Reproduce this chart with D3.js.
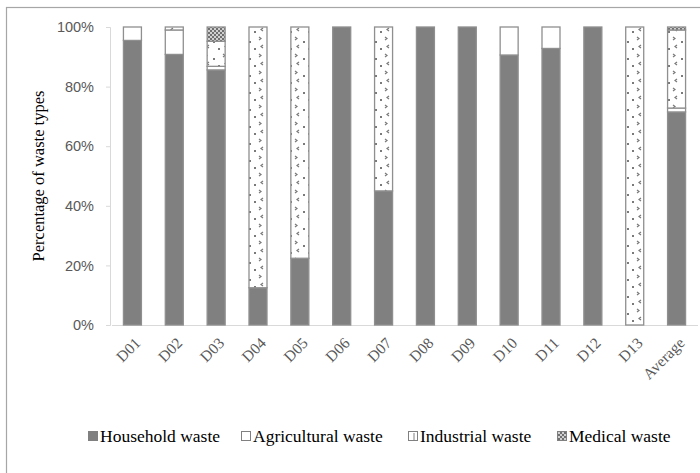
<!DOCTYPE html>
<html><head><meta charset="utf-8">
<script src="https://cdn.jsdelivr.net/npm/d3@7"></script>
<style>body{margin:0;background:#fff}svg{display:block}</style>
</head><body>
<svg id="c" width="700" height="473"></svg>
<script>
const categories = ["D01","D02","D03","D04","D05","D06","D07","D08","D09","D10","D11","D12","D13","Average"];
const household    = [95.5, 90.8, 85.6, 12.5, 22.4, 100, 45, 100, 100, 90.6, 92.8, 100, 0, 71.5];
const agricultural = [4.5, 8.2, 1.2, 0, 0, 0, 0, 0, 0, 9.4, 7.2, 0, 0, 1.3];
const industrial   = [0, 1.0, 8.4, 87.5, 77.6, 0, 55, 0, 0, 0, 0, 0, 100, 26.2];
const medical      = [0, 0, 4.8, 0, 0, 0, 0, 0, 0, 0, 0, 0, 0, 1.0];
const seriesNames = ["Household waste","Agricultural waste","Industrial waste","Medical waste"];
const yTicks = [0,20,40,60,80,100];

const svg = d3.select("#c");
const defs = svg.append("defs");
// industrial pattern
const pi = defs.append("pattern").attr("id","pInd").attr("patternUnits","userSpaceOnUse")
  .attr("width",18).attr("height",17);
pi.append("rect").attr("width",18).attr("height",17).attr("fill","#fff");
pi.append("path").attr("d","M7,3 L9,4.5 L7,6").attr("fill","none").attr("stroke","#7a7a7a").attr("stroke-width",1.2);
pi.append("path").attr("d","M11,11 L9,12.5 L11,14").attr("fill","none").attr("stroke","#7a7a7a").attr("stroke-width",1.2);
pi.append("rect").attr("x",15).attr("y",7).attr("width",2).attr("height",2).attr("fill","#7a7a7a");
pi.append("rect").attr("x",2).attr("y",14).attr("width",2).attr("height",2).attr("fill","#7a7a7a");
// medical pattern
const pm = defs.append("pattern").attr("id","pMed").attr("patternUnits","userSpaceOnUse")
  .attr("width",4).attr("height",4);
pm.append("rect").attr("width",4).attr("height",4).attr("fill","#d0d0d0");
pm.append("rect").attr("width",2).attr("height",2).attr("fill","#707070");
pm.append("rect").attr("x",2).attr("y",2).attr("width",2).attr("height",2).attr("fill","#707070");

const fills = ["#808080","#ffffff","url(#pInd)","url(#pMed)"];

// frame
svg.append("rect").attr("x",6.5).attr("y",7.5).attr("width",720).attr("height",500)
  .attr("fill","none").attr("stroke","#a6a6a6").attr("stroke-width",1.2);

const x = d3.scaleBand().domain(categories).range([111.5,697.5]).paddingInner(0.57).paddingOuter(0.285);
const y = d3.scaleLinear().domain([0,100]).range([325,27]);

// y axis
const ya = svg.append("g").attr("transform","translate(110,0)")
  .call(d3.axisLeft(y).tickValues(yTicks).tickFormat(d=>d+"%").tickSize(4).tickPadding(12));
ya.select(".domain").attr("stroke","#d9d9d9");
ya.selectAll(".tick line").attr("stroke","#d9d9d9");
ya.selectAll("text").attr("font-family","'Liberation Sans', Arial, sans-serif").attr("font-size",14.5).attr("fill","#595959");

// x axis baseline
const xa = svg.append("g").attr("transform","translate(0,325)")
  .call(d3.axisBottom(x).tickSize(0).tickPadding(0));
xa.select(".domain").attr("stroke","#d9d9d9").attr("stroke-width",1.2);
xa.selectAll("text")
  .attr("font-family","'Liberation Serif','Times New Roman',serif").attr("font-size",15.5).attr("fill","#595959")
  .attr("text-anchor","end").attr("dy",0)
  .attr("transform","translate(9,19) rotate(-45)");

// stacked bars
const rows = categories.map((c,i)=>({cat:c, s0:household[i], s1:agricultural[i], s2:industrial[i], s3:medical[i]}));
const stack = d3.stack().keys(["s0","s1","s2","s3"])(rows);
stack.forEach((layer,k)=>{
  svg.append("g").selectAll("rect").data(layer.filter(d=>d[1]-d[0]>0)).join("rect")
    .attr("x",d=>x(d.data.cat)).attr("width",x.bandwidth())
    .attr("y",d=>y(d[1])).attr("height",d=>y(d[0])-y(d[1]))
    .attr("fill",fills[k]).attr("stroke","#8f8f8f").attr("stroke-width",1.3);
});

// y title
svg.append("text").attr("transform","translate(44,176) rotate(-90)")
  .attr("text-anchor","middle").attr("font-family","'Liberation Serif','Times New Roman',serif")
  .attr("font-size",16.5).attr("fill","#000").text("Percentage of waste types");

// legend
const legX = [88,241,408,557];
const lg = svg.append("g");
seriesNames.forEach((n,k)=>{
  lg.append("rect").attr("x",legX[k]+0.5).attr("y",431.5).attr("width",9).attr("height",9)
    .attr("fill",fills[k]==="url(#pInd)"?"#fff":fills[k]).attr("stroke","#808080").attr("stroke-width",1);
  if(k===2) lg.append("line").attr("x1",legX[k]+6).attr("x2",legX[k]+6).attr("y1",433).attr("y2",440).attr("stroke","#808080");
  lg.append("text").attr("x",legX[k]+12).attr("y",442)
    .attr("font-family","'Liberation Serif','Times New Roman',serif").attr("font-size",17.5).attr("fill","#000").text(n);
});
</script>
</body></html>
